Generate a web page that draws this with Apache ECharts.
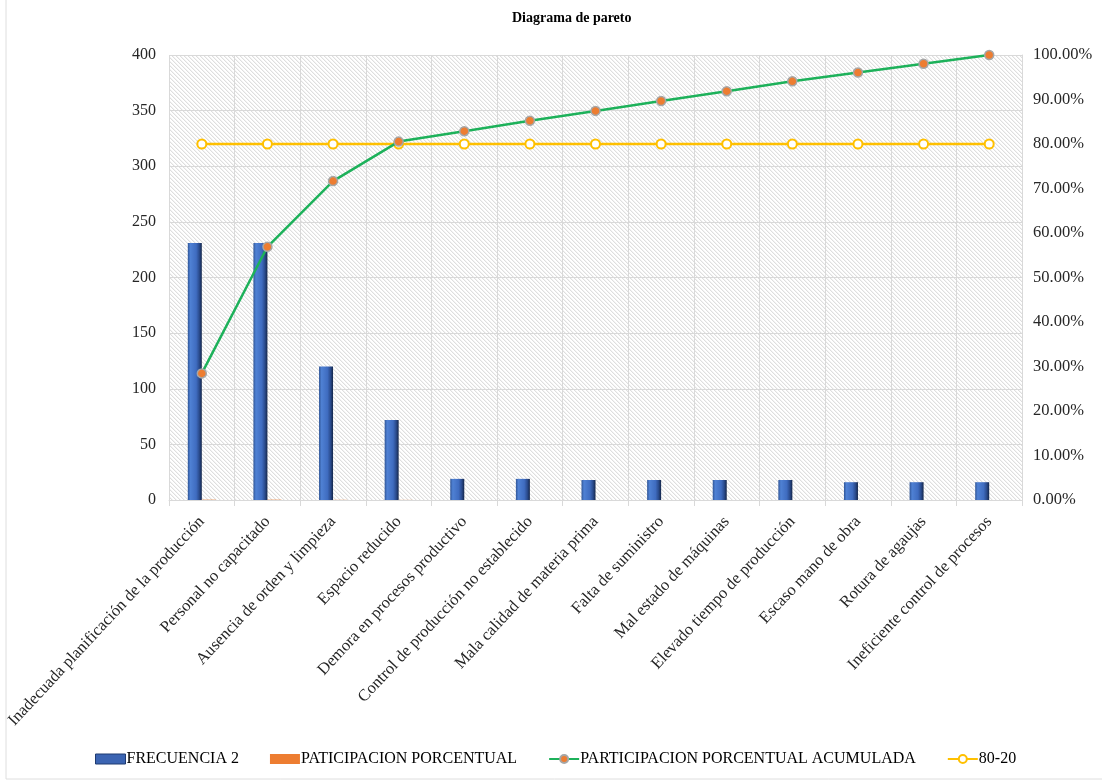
<!DOCTYPE html>
<html>
<head>
<meta charset="utf-8">
<script src="https://cdn.jsdelivr.net/npm/echarts@6/dist/echarts.min.js"></script>
<style>
  html, body { margin: 0; padding: 0; background: #fff; }
  #chart { width: 1102px; height: 780px; }
</style>
</head>
<body>
<div id="chart"></div>
<script>
// Causes, in descending order of frequency
const categories = [
  'Inadecuada planificación de la producción',
  'Personal no capacitado',
  'Ausencia de orden y limpieza',
  'Espacio reducido',
  'Demora en procesos productivo',
  'Control de producción no establecido',
  'Mala calidad de materia prima',
  'Falta de suministro',
  'Mal estado de máquinas',
  'Elevado tiempo de producción',
  'Escaso mano de obra',
  'Rotura de agaujas',
  'Ineficiente control de procesos'
];

// FRECUENCIA 2 (left axis)
const frecuencia = [231, 231, 120, 72, 19, 19, 18, 18, 18, 18, 16, 16, 16];

// PATICIPACION PORCENTUAL (share of each cause, as a fraction, on the left axis)
const participacion = [0.2845, 0.2845, 0.1478, 0.0887, 0.0234, 0.0234, 0.0222, 0.0222, 0.0222, 0.0222, 0.0197, 0.0197, 0.0197];

// PARTICIPACION PORCENTUAL ACUMULADA (right axis, fraction of 1)
const acumulada = [0.2845, 0.5690, 0.7167, 0.8054, 0.8288, 0.8522, 0.8744, 0.8966, 0.9187, 0.9409, 0.9606, 0.9803, 1.0];

// 80-20 reference line (right axis)
const linea8020 = [0.8, 0.8, 0.8, 0.8, 0.8, 0.8, 0.8, 0.8, 0.8, 0.8, 0.8, 0.8, 0.8];

// Diagonal hatch used as the plot background
function makeHatch() {
  const size = 4;
  const c = document.createElement('canvas');
  c.width = size; c.height = size;
  const ctx = c.getContext('2d');
  const img = ctx.createImageData(size, size);
  for (let y = 0; y < size; y++) {
    for (let x = 0; x < size; x++) {
      const d = ((x - y) % size + size) % size;
      let v = 255;
      if (d === 0) v = 222;
      else if (d === 1) v = 243;
      const i = (y * size + x) * 4;
      img.data[i] = v; img.data[i + 1] = v; img.data[i + 2] = v; img.data[i + 3] = 255;
    }
  }
  ctx.putImageData(img, 0, 0);
  return c;
}

const serif = '"Liberation Serif", "DejaVu Serif", serif';
const gridColor = '#d9d9d9';

const barGradient = new echarts.graphic.LinearGradient(0, 0, 1, 0, [
  { offset: 0, color: '#2f5597' },
  { offset: 0.18, color: '#4f81d4' },
  { offset: 0.6, color: '#3f6cc0' },
  { offset: 0.82, color: '#2a4b8d' },
  { offset: 1, color: '#14264a' }
]);

const chart = echarts.init(document.getElementById('chart'), null, { renderer: 'canvas' });

chart.setOption({
  animation: false,
  backgroundColor: '#ffffff',
  textStyle: { fontFamily: serif },
  title: {
    text: 'Diagrama de pareto',
    left: 507,
    top: 6,
    textStyle: { fontFamily: serif, fontSize: 14, fontWeight: 'bold', color: '#000' }
  },
  graphic: [{
    type: 'rect',
    shape: { x: 6, y: -5, width: 1200, height: 784 },
    style: { fill: 'none', stroke: '#dedede', lineWidth: 1 },
    silent: true
  }],
  grid: {
    left: 169,
    right: 80,
    top: 55,
    bottom: 280,
    show: true,
    outerBoundsMode: 'none',
    containLabel: false,
    backgroundColor: { image: makeHatch(), repeat: 'repeat' },
    borderWidth: 0
  },
  legend: {
    left: 90,
    top: 746,
    itemGap: 31,
    itemWidth: 30,
    itemHeight: 10,
    textStyle: { fontFamily: serif, fontSize: 16, color: '#000', padding: [0, 0, 0, -4] },
    data: [
      { name: 'FRECUENCIA 2', icon: 'rect', itemStyle: { color: '#3b64b2', borderColor: '#1f3a70', borderWidth: 1 } },
      { name: 'PATICIPACION PORCENTUAL', icon: 'rect', itemStyle: { color: '#ed7d31' } },
      { name: 'PARTICIPACION PORCENTUAL ACUMULADA' },
      { name: '80-20' }
    ]
  },
  xAxis: {
    type: 'category',
    data: categories,
    axisLine: { lineStyle: { color: gridColor } },
    axisTick: { show: true, length: 6, lineStyle: { color: gridColor } },
    splitLine: { show: true, lineStyle: { color: gridColor, width: 1 } },
    axisLabel: {
      rotate: 47,
      interval: 0,
      margin: 19,
      fontFamily: serif,
      fontSize: 16.5,
      color: '#262626'
    }
  },
  yAxis: [
    {
      type: 'value',
      min: 0,
      max: 400,
      interval: 50,
      axisLine: { show: false },
      axisTick: { show: false },
      splitLine: { show: true, lineStyle: { color: gridColor, width: 1 } },
      axisLabel: { fontFamily: serif, fontSize: 16, color: '#262626', margin: 13 }
    },
    {
      type: 'value',
      min: 0,
      max: 1,
      interval: 0.1,
      position: 'right',
      axisLine: { show: true, lineStyle: { color: gridColor } },
      axisTick: { show: false },
      splitLine: { show: false },
      axisLabel: {
        fontFamily: serif,
        fontSize: 16.5,
        color: '#262626',
        margin: 11,
        formatter: v => (v * 100).toFixed(2) + '%'
      }
    }
  ],
  series: [
    {
      name: 'FRECUENCIA 2',
      type: 'bar',
      yAxisIndex: 0,
      data: frecuencia,
      barWidth: 14,
      barGap: '0%',
      itemStyle: { color: barGradient }
    },
    {
      name: 'PATICIPACION PORCENTUAL',
      type: 'bar',
      yAxisIndex: 0,
      data: participacion,
      barWidth: 14,
      barGap: '0%',
      itemStyle: { color: '#ed7d31' }
    },
    {
      name: 'PARTICIPACION PORCENTUAL ACUMULADA',
      type: 'line',
      yAxisIndex: 1,
      data: acumulada,
      symbol: 'circle',
      symbolSize: 9,
      lineStyle: { color: '#1db15a', width: 2.5 },
      itemStyle: { color: '#ed7d31', borderColor: '#a6a6a6', borderWidth: 1.5 },
      z: 4
    },
    {
      name: '80-20',
      type: 'line',
      yAxisIndex: 1,
      data: linea8020,
      symbol: 'circle',
      symbolSize: 9,
      lineStyle: { color: '#ffc000', width: 2.5 },
      itemStyle: { color: '#ffffff', borderColor: '#ffc000', borderWidth: 2 },
      z: 3
    }
  ]
});
</script>
</body>
</html>
